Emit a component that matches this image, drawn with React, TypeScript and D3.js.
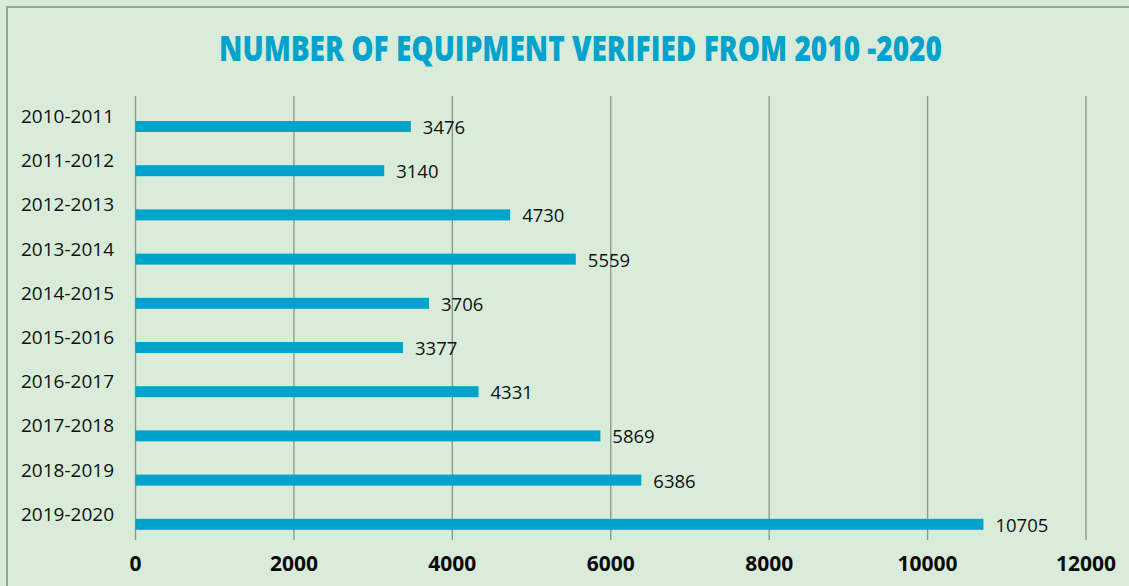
import React, { useLayoutEffect, useRef, useState } from "react";
import * as d3 from "d3";

const categories = ["2010-2011","2011-2012","2012-2013","2013-2014","2014-2015","2015-2016","2016-2017","2017-2018","2018-2019","2019-2020"];
const values = [3476,3140,4730,5559,3706,3377,4331,5869,6386,10705];
const ticks = [0,2000,4000,6000,8000,10000,12000];
const title = "NUMBER OF EQUIPMENT VERIFIED FROM 2010 -2020";

export default function App() {
  const W = 1129, H = 586;
  const x = d3.scaleLinear().domain([0, 12000]).range([135.5, 1086]);
  const y = d3.scaleBand<string>().domain(categories).range([97, 539]);
  const gridTop = 96, gridBottom = 540;
  const font = "'Open Sans', 'Noto Sans', sans-serif";
  const titleRef = useRef<SVGTextElement>(null);
  const [sx, setSx] = useState(0.72);
  useLayoutEffect(() => {
    if (titleRef.current) {
      const len = titleRef.current.getComputedTextLength();
      if (len > 0) setSx(723 / len);
    }
  }, []);
  return (
    <svg width={W} height={H} style={{ position: "absolute", left: 0, top: 0 }}>
      <rect x={0} y={0} width={W} height={H} fill="#d8ecd9" />
      <rect x={7} y={7} width={W + 20} height={H + 20} fill="none" stroke="#93a993" strokeWidth={2} />
      <g transform={`translate(580.5,61) scale(${sx},1)`}>
        <text ref={titleRef} x={0} y={0} textAnchor="middle" fontFamily={font} fontWeight={800} fontSize={36}
          fill="#05a3cc">{title}</text>
      </g>
      {ticks.map((t) => (
        <g key={t}>
          <line x1={x(t)} x2={x(t)} y1={gridTop} y2={gridBottom} stroke="#8c9c8c" strokeWidth={1.4} />
          <text x={x(t)} y={571} textAnchor="middle" fontFamily={font} fontWeight={700} fontSize={21} fill="#0a0a0a">{t}</text>
        </g>
      ))}
      {categories.map((c, i) => {
        const by = (y(c) as number) + 24;
        return (
          <g key={c}>
            <text x={114} y={(y(c) as number) + 26} textAnchor="end" fontFamily={font} fontSize={19} fill="#111">{c}</text>
            <rect x={x(0)} y={by} width={x(values[i]) - x(0)} height={11} fill="#00a3cc" />
            <text x={x(values[i]) + 12} y={by + 13} fontFamily={font} fontSize={18.5} fill="#111">{values[i]}</text>
          </g>
        );
      })}
    </svg>
  );
}
